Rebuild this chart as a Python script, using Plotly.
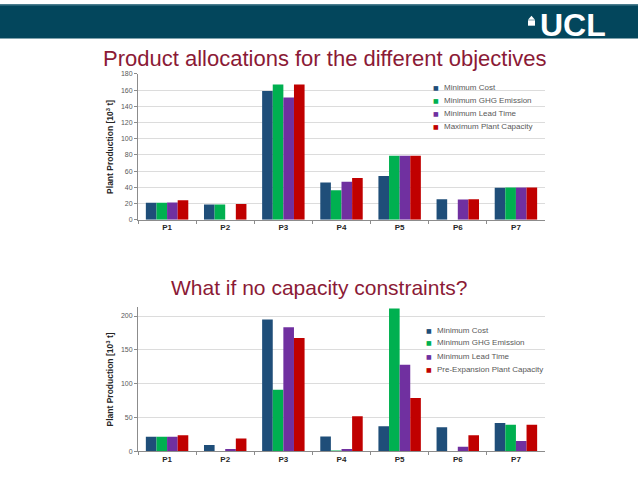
import plotly.graph_objects as go

# categories
products = ['P1', 'P2', 'P3', 'P4', 'P5', 'P6', 'P7']

# top chart: with capacity constraints
cost_1 = [21, 19, 159, 46, 54, 25.5, 39.5]
ghg_1 = [21, 19, 167, 36.5, 79, 0, 40]
lead_1 = [21.5, 0, 151, 47, 79, 25, 40]
capacity_1 = [24, 19.5, 167, 51.5, 79, 25.5, 40]

# bottom chart: no capacity constraints
cost_2 = [21.5, 9.5, 195, 22, 37, 35.5, 42]
ghg_2 = [21.5, 0, 91, 1, 211, 0, 39.5]
lead_2 = [21.5, 3.5, 183.5, 3.5, 128, 7, 15.5]
capacity_2 = [24, 19, 167.5, 52, 79, 24, 39.5]

names_1 = ['Minimum Cost', 'Minimum GHG Emission', 'Minimum Lead Time', 'Maximum Plant Capacity']
names_2 = ['Minimum Cost', 'Minimum GHG Emission', 'Minimum Lead Time', 'Pre-Expansion Plant Capacity']
COLORS = ['#1f4e79', '#00b050', '#7030a0', '#c00000']

TITLE_RED = '#8b1a36'
HEADER = '#03465c'
FONT = 'Liberation Sans, Arial, sans-serif'
W, H = 638, 479


def px(x):
    return x / W


def py(y):
    return 1 - y / H


fig = go.Figure()

for names, vals_list, xa, ya in [(names_1, [cost_1, ghg_1, lead_1, capacity_1], 'x', 'y'),
                                 (names_2, [cost_2, ghg_2, lead_2, capacity_2], 'x2', 'y2')]:
    for name, vals, col in zip(names, vals_list, COLORS):
        fig.add_trace(go.Bar(x=products, y=vals, name=name,
                             marker=dict(color=col, line_width=0),
                             xaxis=xa, yaxis=ya, showlegend=False))

xaxis_style = dict(
    domain=[px(138), px(545)], showline=True, linecolor='#8c8c8c', linewidth=1,
    ticks='outside', tickson='boundaries', ticklen=3, tickcolor='#8c8c8c',
    tickfont=dict(family=FONT, size=8, color='#262626'),
    showgrid=False, zeroline=False,
    tickvals=products, ticktext=['<b>%s</b>' % p for p in products],
)
yaxis_style = dict(
    showline=True, linecolor='#8c8c8c', linewidth=1,
    ticks='outside', ticklen=3, tickcolor='#8c8c8c',
    tickfont=dict(family=FONT, size=7, color='#595959'),
    gridcolor='#dcdcdc', gridwidth=1, zeroline=False,
    title=dict(text='<b>Plant Production [10<sup>3</sup> t]</b>',
               font=dict(family=FONT, size=8.5, color='#262626'), standoff=5),
)

# legend entries drawn as annotations (tight row spacing like the original)
legend_annots = []
for names, mx, rows in [(names_1, 436, [84.5, 97.5, 111, 124]),
                        (names_2, 429, [331, 344, 357.5, 371])]:
    for name, col, ry in zip(names, COLORS, rows):
        legend_annots.append(dict(text='■', x=px(mx), y=py(ry), xref='paper', yref='paper',
                                  xanchor='center', yanchor='middle', showarrow=False,
                                  font=dict(family='DejaVu Sans', size=6, color=col)))
        legend_annots.append(dict(text=name, x=px(mx + 6), y=py(ry), xref='paper', yref='paper',
                                  xanchor='left', yanchor='middle', showarrow=False,
                                  font=dict(family=FONT, size=8, color='#595959')))

fig.update_layout(
    width=W, height=H,
    margin=dict(l=0, r=0, t=0, b=0),
    paper_bgcolor='white', plot_bgcolor='white',
    barmode='group', bargap=0.27, bargroupgap=0,
    font=dict(family=FONT),
    showlegend=False,
    xaxis=dict(xaxis_style, anchor='y'),
    yaxis=dict(yaxis_style, domain=[py(219), py(71)], anchor='x', range=[0, 180], dtick=20),
    xaxis2=dict(xaxis_style, anchor='y2'),
    yaxis2=dict(yaxis_style, domain=[py(454), py(308)], anchor='x2', range=[0, 212.6], dtick=50),
    shapes=[
        dict(type='rect', xref='paper', yref='paper', x0=0, x1=1, y0=py(35), y1=1,
             fillcolor=HEADER, line_width=0, layer='below'),
        dict(type='rect', xref='paper', yref='paper', x0=0, x1=1, y0=py(1.5), y1=1,
             fillcolor='#4a7d8e', line_width=0, layer='below'),
        # small building mark next to the logo
        dict(type='path', xref='paper', yref='paper',
             path='M %f %f L %f %f L %f %f Z' % (px(528), py(16), px(535), py(16), px(531.5), py(12)),
             fillcolor='white', line_width=0),
        dict(type='rect', xref='paper', yref='paper', x0=px(528), x1=px(535),
             y0=py(22), y1=py(16.5), fillcolor='white', line_width=0),
    ],
    annotations=[
        dict(text='<b>UCL</b>', x=px(608), y=py(42), xref='paper', yref='paper',
             xanchor='right', yanchor='bottom', showarrow=False,
             font=dict(family=FONT, size=32, color='white')),
        dict(text='Product allocations for the different objectives', x=px(325), y=py(55),
             xref='paper', yref='paper', xanchor='center', yanchor='middle', showarrow=False,
             font=dict(family=FONT, size=22, color=TITLE_RED)),
        dict(text='What if no capacity constraints?', x=px(319), y=py(288),
             xref='paper', yref='paper', xanchor='center', yanchor='middle', showarrow=False,
             font=dict(family=FONT, size=21, color=TITLE_RED)),
    ] + legend_annots,
)

page_fix = ("document.documentElement.style.margin='0';"
            "document.documentElement.style.overflow='hidden';"
            "document.body.style.margin='0';"
            "document.body.style.overflow='hidden';")
fig.write_html('out.html', config={'displayModeBar': False}, post_script=page_fix)
